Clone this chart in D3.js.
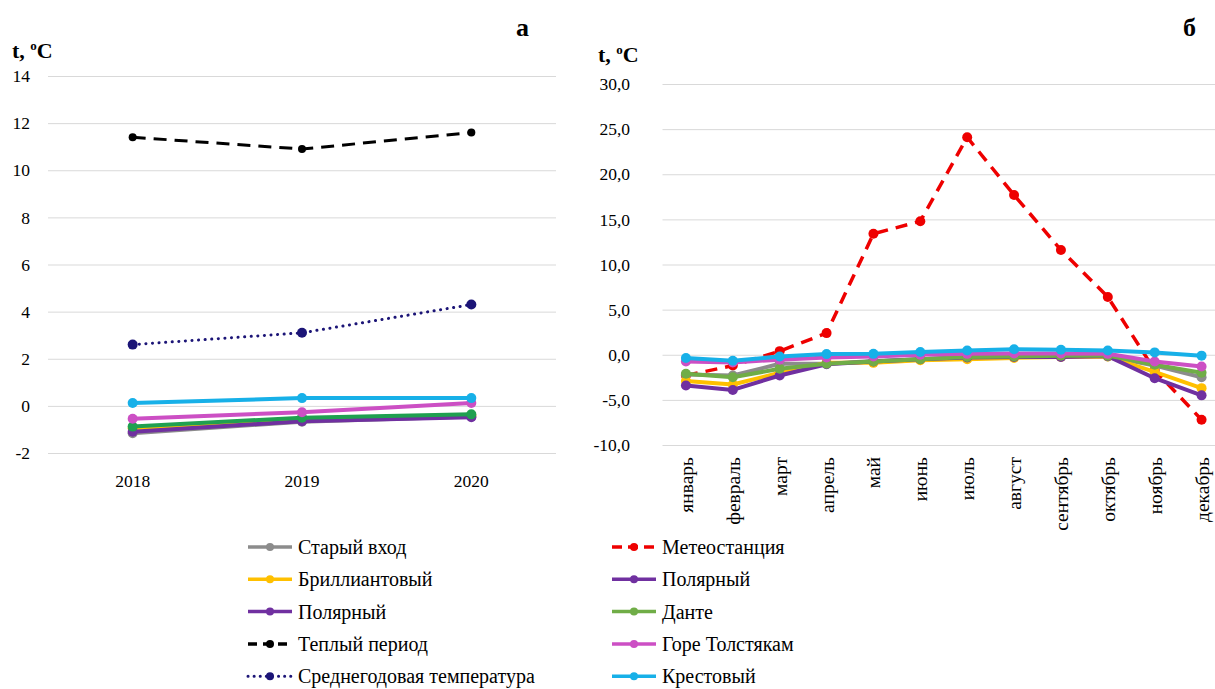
<!DOCTYPE html>
<html>
<head>
<meta charset="utf-8">
<script src="https://cdn.jsdelivr.net/npm/d3@7"></script>
<style>
  body { margin: 0; background: #fff; }
  svg text { font-family: "Times New Roman", Tinos, "Liberation Serif", "Noto Serif", "DejaVu Serif", FreeSerif, Times, serif; }
  .grid line { stroke: #d9d9d9; stroke-width: 1; }
  .grid .domain { display: none; }
  .tick-label { font-size: 17.5px; fill: #000; }
  .month-label { font-size: 19.5px; fill: #000; }
</style>
</head>
<body>
<svg id="chart" width="1215" height="689"></svg>
<script>
// ---- data: panel a (by year) ----
const years = ["2018", "2019", "2020"];
const yearTicks = [-2, 0, 2, 4, 6, 8, 10, 12, 14];
const staryVhodYear = [-1.16, -0.67, -0.45];
const brilliantYear = [-0.95, -0.55, -0.40];
const polyarnyYear = [-1.10, -0.65, -0.48];
const danteYear = [-0.88, -0.50, -0.36];
const goreYear = [-0.55, -0.27, 0.12];
const krestovyYear = [0.12, 0.33, 0.33];
const warmPeriod = [11.4, 10.9, 11.6];
const annualMean = [2.6, 3.1, 4.3];

// ---- data: panel б (by month) ----
const months = ["январь", "февраль", "март", "апрель", "май", "июнь", "июль",
  "август", "сентябрь", "октябрь", "ноябрь", "декабрь"];
const monthTicks = [-10, -5, 0, 5, 10, 15, 20, 25, 30];
const meteo = [-2.3, -1.2, 0.4, 2.4, 13.4, 14.8, 24.1, 17.7, 11.6, 6.4, -1.7, -7.2];
const staryVhodMonth = [-2.2, -2.3, -1.0, -1.0, -0.7, -0.5, -0.3, -0.2, -0.2, -0.2, -1.2, -2.5];
const brilliantMonth = [-2.9, -3.3, -2.0, -0.9, -0.9, -0.6, -0.5, -0.35, -0.25, -0.2, -1.9, -3.7];
const polyarnyMonth = [-3.4, -3.9, -2.3, -1.05, -0.75, -0.5, -0.3, -0.25, -0.25, -0.15, -2.6, -4.5];
const danteMonth = [-2.1, -2.5, -1.55, -1.0, -0.75, -0.5, -0.25, -0.2, -0.1, -0.1, -1.1, -2.0];
const goreMonth = [-0.74, -0.85, -0.55, -0.3, -0.2, 0.0, 0.1, 0.15, 0.15, 0.1, -0.75, -1.3];
const krestovyMonth = [-0.37, -0.66, -0.2, 0.07, 0.1, 0.3, 0.48, 0.6, 0.55, 0.48, 0.26, -0.1];

const svg = d3.select("#chart");

// draws one line panel
function drawPanel(cfg) {
  const x = d3.scaleBand().domain(cfg.cats).range(cfg.xRange);
  const y = d3.scaleLinear().domain(cfg.yDomain).range(cfg.yRange);
  const g = svg.append("g");

  // gridlines
  g.append("g")
    .attr("class", "grid")
    .attr("transform", `translate(${cfg.xRange[0]},0)`)
    .call(d3.axisLeft(y).tickValues(cfg.ticks).tickSize(-(cfg.xRange[1] - cfg.xRange[0])).tickFormat(""));

  // y labels
  g.selectAll(".ylab")
    .data(cfg.ticks)
    .join("text")
    .attr("class", "tick-label")
    .attr("x", cfg.yLabelX)
    .attr("y", d => y(d))
    .attr("dy", "0.35em")
    .attr("text-anchor", "end")
    .text(cfg.fmt);

  // x labels
  if (cfg.rotate) {
    g.selectAll(".xlab")
      .data(cfg.cats)
      .join("text")
      .attr("class", "month-label")
      .attr("transform", d => `translate(${x(d) + x.bandwidth() / 2 + 7},${cfg.xLabelY}) rotate(-90)`)
      .attr("text-anchor", "end")
      .text(d => d);
  } else {
    g.selectAll(".xlab")
      .data(cfg.cats)
      .join("text")
      .attr("class", "tick-label")
      .attr("x", d => x(d) + x.bandwidth() / 2)
      .attr("y", cfg.xLabelY)
      .attr("text-anchor", "middle")
      .text(d => d);
  }

  const line = d3.line()
    .x((d, i) => x(cfg.cats[i]) + x.bandwidth() / 2)
    .y(d => y(d));

  cfg.series.forEach(s => {
    g.append("path")
      .datum(s.values)
      .attr("fill", "none")
      .attr("stroke", s.color)
      .attr("stroke-width", s.width || 4)
      .attr("stroke-dasharray", s.dash || null)
      .attr("stroke-linecap", s.cap || "round")
      .attr("stroke-linejoin", "round")
      .attr("d", line);
    g.selectAll(null)
      .data(s.values)
      .join("circle")
      .attr("cx", (d, i) => x(cfg.cats[i]) + x.bandwidth() / 2)
      .attr("cy", d => y(d))
      .attr("r", s.r || 5)
      .attr("fill", s.color);
  });
}

const cGrey = "#8c8c8c", cYellow = "#ffc000", cPurple = "#7030a0",
  cGreenA = "#1fa050", cGreenB = "#70ad47", cMagenta = "#cc4fc4",
  cCyan = "#17b0e8", cRed = "#ee0000", cNavy = "#1c1577";

drawPanel({
  cats: years, xRange: [48, 556], yDomain: [-2, 14], yRange: [453, 76],
  ticks: yearTicks, yLabelX: 30, xLabelY: 487, fmt: d => d, rotate: false,
  series: [
    { values: staryVhodYear, color: cGrey },
    { values: brilliantYear, color: cYellow },
    { values: polyarnyYear, color: cPurple },
    { values: danteYear, color: cGreenA },
    { values: goreYear, color: cMagenta },
    { values: krestovyYear, color: cCyan },
    { values: warmPeriod, color: "#000", width: 3, dash: "13,8", cap: "butt", r: 4 },
    { values: annualMean, color: cNavy, width: 3, dash: "0.1,6.5", cap: "round", r: 5 }
  ]
});

drawPanel({
  cats: months, xRange: [662.5, 1225], yDomain: [-10, 30], yRange: [445, 84],
  ticks: monthTicks, yLabelX: 630, xLabelY: 457, fmt: d => d3.format(".1f")(d).replace(".", ",").replace("−", "-"), rotate: true,
  series: [
    { values: meteo, color: cRed, width: 3.5, dash: "12,8", cap: "butt", r: 5 },
    { values: staryVhodMonth, color: cGrey },
    { values: brilliantMonth, color: cYellow },
    { values: polyarnyMonth, color: cPurple },
    { values: danteMonth, color: cGreenB },
    { values: goreMonth, color: cMagenta },
    { values: krestovyMonth, color: cCyan }
  ]
});

// panel letters and axis titles
svg.append("text").attr("x", 516).attr("y", 36).attr("font-size", 26).attr("font-weight", "bold").text("а");
svg.append("text").attr("x", 1183).attr("y", 36).attr("font-size", 26).attr("font-weight", "bold").text("б");
[[12, 58], [598, 62]].forEach(([tx, ty]) => {
  const t = svg.append("text").attr("x", tx).attr("y", ty).attr("font-size", 22).attr("font-weight", "bold");
  t.append("tspan").text("t, ");
  t.append("tspan").attr("font-size", 13).attr("dy", -8).text("o");
  t.append("tspan").attr("dy", 8).text("C");
});

// legend
const legendLeft = [
  { name: "Старый вход", color: cGrey },
  { name: "Бриллиантовый", color: cYellow },
  { name: "Полярный", color: cPurple },
  { name: "Теплый период", color: "#000", dash: "9,6" },
  { name: "Среднегодовая температура", color: cNavy, dash: "0.1,6" }
];
const legendRight = [
  { name: "Метеостанция", color: cRed, dash: "10,6" },
  { name: "Полярный", color: cPurple },
  { name: "Данте", color: cGreenB },
  { name: "Горе Толстякам", color: cMagenta },
  { name: "Крестовый", color: cCyan }
];
function drawLegend(items, x0) {
  items.forEach((it, i) => {
    const yy = 547 + i * 32.3;
    const dotted = it.dash && it.dash.startsWith("0.1");
    svg.append("line")
      .attr("x1", x0).attr("x2", x0 + 44).attr("y1", yy).attr("y2", yy)
      .attr("stroke", it.color).attr("stroke-width", dotted ? 3 : 3.5)
      .attr("stroke-dasharray", it.dash || null)
      .attr("stroke-linecap", dotted ? "round" : "butt");
    svg.append("circle").attr("cx", x0 + 22).attr("cy", yy).attr("r", 4).attr("fill", it.color);
    svg.append("text").attr("x", x0 + 50).attr("y", yy).attr("dy", "0.35em")
      .attr("font-size", 20).text(it.name);
  });
}
drawLegend(legendLeft, 248);
drawLegend(legendRight, 612);
</script>
</body>
</html>
